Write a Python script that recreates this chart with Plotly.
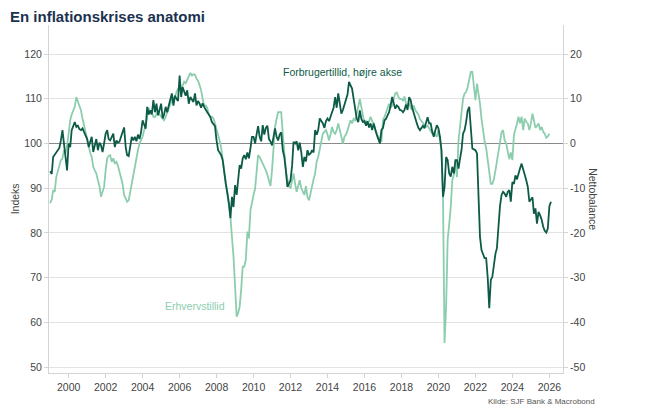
import plotly.graph_objects as go
import pandas as pd

# Forbrugertillid (nettobalance, right axis), monthly from Jan 1999
consumer = [
    -6.2, -6.8, -3, -2.5, -2.2, -1.5, -1, 0.7, 3, 0, -3.7, -6,          # 1999
    0, -0.8, 3, 4.1, 4.8, 3.7, 4, 3.2, 3, 3.4, 2.6, 2.2,                 # 2000
    1, -0.8, 0.5, 1.5, -1.9, 0, 1, -1.5, 0.2, -0.4, -1.9, 0,             # 2001
    2.2, 3, 1, 0.7, 1.5, 2.2, -0.8, 0.7, 0.2, 0.4, 1.5, 2.5,             # 2002
    3.6, -0.8, -2.6, -2.8, 0, 1.5, 0.7, 1.5, 0.5, 2, 1, 2.5,             # 2003
    5.2, 4, 3.3, 8.2, 6.5, 7.4, 6.5, 9.7, 7, 8.9, 6.3, 7.5,              # 2004
    8.9, 5.6, 6.5, 8.2, 7, 8.5, 9.7, 11.2, 8.5, 10.7, 10, 9.5,           # 2005
    15.2, 10.4, 12.6, 11.5, 10.7, 11.9, 8.9, 10.4, 9.8, 9.3, 11.2, 8.5,  # 2006
    9.5, 8.9, 8, 9, 8.2, 7.5, 7, 6.5, 5.9, 4.8, 4.2, 3.9,                # 2007
    0.7, -1.5, -2, -2.6, -3.7, -6.7, -9, -11, -13.3, -16.7, -11.9, -14.2,  # 2008
    -9.3, -11.5, -7.5, -4.8, -5.6, -3.3, -2.6, -3.5, -2, -3.3, -1, 1.5,  # 2009
    1.5, 0, 2, 3.9, 1.5, 0.5, 4.1, 2, 3.5, 4, 1, 0.5,                    # 2010
    -0.4, 1.5, 3.4, 1.5, 0.7, 2, 2.5, -1.5, -3, -6, -9.7, -9,            # 2011
    -8.2, -5, 0.4, 0, 0.5, -1.5, 0.2, -2, -5.2, -3, -4, -1.5,            # 2012
    -2.5, -2.2, -1.5, -2, 3, 2, 3, 5.6, 5, 4.5, 3.5, 5,                  # 2013
    5.6, 5, 6, 7, 8, 10.4, 8, 11.2, 9, 6.7, 7.5, 8.7,                    # 2014
    9.7, 11, 13.8, 13, 12.3, 10, 8.2, 5.6, 4.8, 7.4, 5.5, 4.8,           # 2015
    5, 4, 5, 3.6, 4.5, 3, 4.5, 3, 1.9, 1, 0, 3,                          # 2016
    3.5, 5.2, 5.5, 6.3, 7, 8.5, 10.4, 9, 7.8, 8.5, 8.2, 7.5,             # 2017
    7.4, 7, 7.5, 8.7, 7.5, 10.4, 9.7, 8, 6.7, 5.2, 4.5, 3.5,             # 2018
    3, 3.5, 4, 3.4, 4.5, 5.9, 4.5, 4.5, 2.6, 1.5, 3, 4.1,                # 2019
    3.4, 1.5, -1.5, -11.9, -9.7, -3, -3.7, -6.7, -7.4, -5.2, -6.7, -3.7,  # 2020
    -3.7, -5.6, -3.5, -1.5, 2.2, 3, 4.8, 7.4, 8.2, 4.1, -1.1, -1.3,      # 2021
    -1.5, -2.2, -10.4, -20.8, -23.8, -25, -25.6, -25.6, -30, -36.8, -30.5, -29.8,  # 2022
    -27, -24.6, -23.4, -17.9, -14, -11.5, -10.8, -11.2, -11.9, -10.8, -10.4, -13,  # 2023
    -8.6, -9, -7.1, -8, -6.5, -5.5, -4.5, -5.5, -7, -8.2, -9.7, -13,     # 2024
    -12.5, -12, -15.7, -14.5, -17.9, -15.3, -16, -17, -18.6, -19.5, -19.9, -19,  # 2025
    -14, -13,                                                            # 2026
]

# Erhvervstillid (indeks, left axis), monthly from Jan 1999
business = [
    86.7, 87.5, 89.6, 89.2, 92.5, 94, 95.5, 96.3, 96.7, 98.5, 97.8, 99.5,          # 1999
    102.2, 105.2, 106.5, 107.4, 108.2, 110.4, 109.3, 108.2, 107.4, 105.6, 104, 103,  # 2000
    101.5, 99.2, 98, 97, 94.8, 94, 93.3, 91.8, 90.5, 88.1, 89, 90.3,               # 2001
    94, 96.7, 97.2, 97.4, 95.9, 96.7, 95.5, 95.9, 95, 93.7, 92, 91,                # 2002
    88.5, 87.5, 87, 87.3, 89.2, 91, 93.3, 95, 97, 98.5, 100, 100.7,                # 2003
    101.5, 103, 103.7, 106, 108, 106.7, 107, 106, 105.9, 106.5, 107.4, 106.5,      # 2004
    106, 105.5, 105.2, 106, 107, 108, 109, 109.7, 110, 110.4, 111.5, 112.3,        # 2005
    112.5, 112, 113, 113.8, 113.5, 114.1, 115, 115.8, 115.2, 115.5, 115.4, 114.5,  # 2006
    114, 113, 112, 110, 108.4, 108.5, 108, 106.5, 105.9, 106, 105.6, 104.5,        # 2007
    103.3, 102, 100.7, 99, 96.3, 94, 92, 89, 86, 83.6, 79, 74.7,                   # 2008
    68, 61.3, 62, 63.5, 67.3, 72.5, 72.5, 74, 80.3, 78.8, 85.1, 87.3,              # 2009
    88.5, 90, 93, 97.4, 97, 96.3, 95.5, 95, 94, 93, 91.8, 90.5,                    # 2010
    94, 100.5, 103.7, 105.5, 107, 107, 107, 102.2, 98, 94, 92, 90.5,               # 2011
    90, 91.5, 93.3, 91, 89.2, 90.5, 91.8, 90, 89, 88.5, 90.5, 88,                  # 2012
    87.3, 89, 91, 92, 93.3, 96, 97, 99.2, 100.5, 102.2, 102.5, 103,                # 2013
    102, 100.7, 102, 103.7, 102.5, 102.2, 103, 104.5, 103, 101.5, 100, 101.5,      # 2014
    102, 103, 104, 105.2, 104.5, 105.5, 105.2, 106.5, 108.2, 110, 108, 107,        # 2015
    104.5, 105, 104.3, 105, 106, 105, 104.5, 103, 102.2, 101.5, 100.8, 100.4,      # 2016
    105.2, 106, 107, 108, 108.9, 108, 108.5, 110, 111.2, 111.4, 110.4, 110,        # 2017
    110, 109.5, 110.5, 109, 108.5, 109, 108, 107.5, 108.5, 107.5, 107, 106.5,      # 2018
    105.5, 105, 104.5, 104, 103.7, 104, 103.5, 103, 102.2, 102.5, 102, 101.5,      # 2019
    103, 100.7, 98.5, 87.3, 55.4, 63.5, 78.4, 82, 85.9, 91.8, 93, 95.5,            # 2020
    92.5, 100.7, 104, 108.2, 110, 111.2, 111.5, 112.6, 114, 116, 116, 112,         # 2021
    109.7, 113.4, 111.5, 108.9, 105.5, 102.2, 100.5, 99, 96, 93.3, 91, 91,         # 2022
    92, 94, 96, 97.8, 100.5, 102.5, 103, 100.7, 100, 98.5, 96.5, 98,               # 2023
    96.3, 102, 103, 104.5, 106, 104.5, 106, 103, 105.6, 104.8, 104.5, 103,         # 2024
    104.5, 106.7, 105.2, 103.5, 104, 104.5, 103, 103.7, 102.6, 102.2, 101.3, 101.6,  # 2025
    102.2,                                                                         # 2026
]

left_ticks = [50, 60, 70, 80, 90, 100, 110, 120]
right_ticks = [-50, -40, -30, -20, -10, 0, 10, 20]
right_labels = ["-50", "-40", "-30", "-20", "-10", "0", "10", "20"]

dates_c = pd.date_range("1999-01-01", periods=len(consumer), freq="MS")
dates_b = pd.date_range("1999-01-01", periods=len(business), freq="MS")

dark = "#0d5b47"
light = "#8ccdae"
grid = "#e3e3e3"
axis_grey = "#d4d4d4"
tick_font = dict(family="Liberation Sans, Arial", size=10.5, color="#444444")

# page body has an 8px margin, so the figure is 8px smaller on each side
W, H = 644, 412

fig = go.Figure()
fig.add_trace(go.Scatter(
    x=dates_b, y=business, mode="lines",
    line=dict(color=light, width=1.8),
    name="Erhvervstillid", yaxis="y",
))
fig.add_trace(go.Scatter(
    x=dates_c, y=consumer, mode="lines",
    line=dict(color=dark, width=1.8),
    name="Forbrugertillid", yaxis="y2",
))

fig.update_layout(
    width=W, height=H,
    margin=dict(l=41, r=89, t=17, b=47),
    plot_bgcolor="white", paper_bgcolor="white",
    showlegend=False,
    font=dict(family="Liberation Sans, Arial", color="#444444"),
    title=dict(
        text="<b>En inflationskrises anatomi</b>",
        x=2 / W, xref="container", xanchor="left",
        y=1 - 9 / H, yref="container", yanchor="middle",
        font=dict(family="Liberation Sans, Arial", size=15, color="#1c3150"),
    ),
    xaxis=dict(
        type="date",
        range=["1998-12-09", "2026-09-27"],
        tick0="2000-01-01", dtick="M24", tickformat="%Y",
        ticks="outside", ticklen=4, tickcolor=axis_grey,
        showgrid=False, showline=True, linecolor=axis_grey, linewidth=1,
        tickfont=tick_font, zeroline=False,
    ),
    yaxis=dict(
        range=[48.7, 126.5],
        tickvals=left_ticks,
        ticks="outside", ticklen=4, tickcolor=axis_grey,
        showgrid=True, gridcolor=grid, gridwidth=1,
        showline=True, linecolor=axis_grey, linewidth=1,
        zeroline=False, tickfont=tick_font,
    ),
    yaxis2=dict(
        range=[-51.3, 26.5],
        tickvals=right_ticks, ticktext=right_labels,
        overlaying="y", side="right",
        ticks="outside", ticklen=4, tickcolor=axis_grey,
        showgrid=False,
        showline=True, linecolor=axis_grey, linewidth=1,
        zeroline=True, zerolinecolor="#8a8a8a", zerolinewidth=1,
        tickfont=tick_font,
    ),
    annotations=[
        dict(text="Forbrugertillid, højre akse", x="2014-10-20", y=116.1,
             xref="x", yref="y", showarrow=False,
             font=dict(size=10.5, color=dark)),
        dict(text="Erhvervstillid", x="2006-10-25", y=63.7,
             xref="x", yref="y", showarrow=False,
             font=dict(size=10.5, color=light)),
        dict(text="Indeks", x=-0.0655, y=0.5, xref="paper", yref="paper",
             textangle=-90, showarrow=False, xanchor="center", yanchor="middle",
             font=dict(size=10.5, color="#444444")),
        dict(text="Nettobalance", x=1.058, y=0.5, xref="paper", yref="paper",
             textangle=90, showarrow=False, xanchor="center", yanchor="middle",
             font=dict(size=10.5, color="#444444")),
        dict(text="Kilde: SJF Bank & Macrobond", x=1.066, y=-0.0825,
             xref="paper", yref="paper", showarrow=False,
             xanchor="right", yanchor="middle",
             font=dict(size=8, color="#555555")),
    ],
)

fig.write_html("out.html")
